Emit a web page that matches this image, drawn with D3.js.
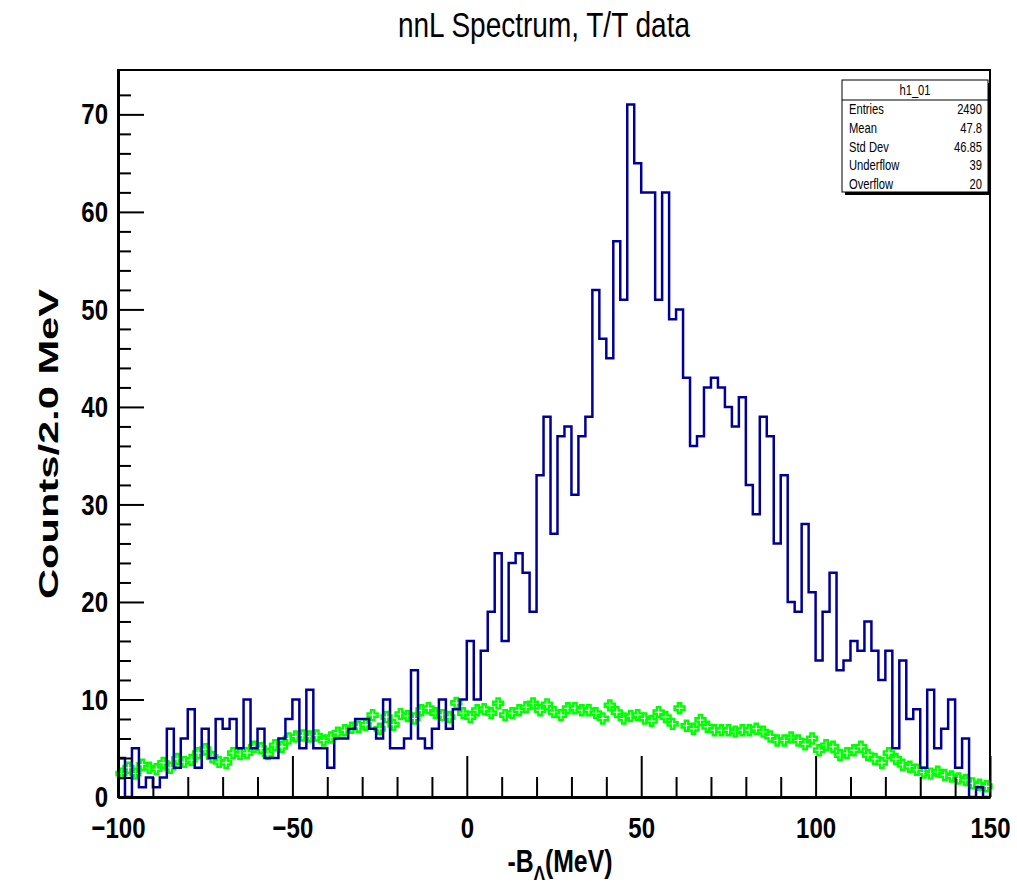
<!DOCTYPE html>
<html>
<head>
<meta charset="utf-8">
<script src="https://cdn.jsdelivr.net/npm/d3@7/dist/d3.min.js"></script>
<style>
  body { margin: 0; background: #fff; }
  svg { display: block; }
  text { font-family: "Liberation Sans", Arial, sans-serif; }
</style>
</head>
<body>
<script>
// histogram h1_01 : 125 bins of 2 MeV from -100 to 150
var xMin = -100, xMax = 150, binWidth = 2;

var counts = [
  4, 0, 5, 1, 2, 1, 2, 7, 3, 6,
  9, 3, 7, 4, 8, 7, 8, 5, 10, 5,
  7, 4, 4, 6, 8, 10, 5, 11, 5, 5,
  3, 6, 6, 7, 8, 8, 7, 6, 10, 5,
  5, 6, 13, 6, 5, 7, 10, 7, 9, 10,
  16, 10, 15, 19, 25, 16, 24, 25, 23, 19,
  33, 39, 27, 37, 38, 31, 37, 39, 52, 47,
  45, 57, 51, 71, 65, 62, 62, 51, 62, 49,
  50, 43, 36, 37, 42, 43, 42, 40, 38, 41,
  32, 29, 39, 37, 26, 33, 20, 19, 28, 21,
  14, 19, 23, 13, 14, 16, 15, 18, 15, 12,
  15, 5, 14, 8, 9, 3, 11, 5, 7, 10,
  3, 6, 0, 1, 0
];

// green background points (same binning)
var bgCounts = [
  2.4, 3.0, 2.4, 3.3, 3.0, 2.85, 3.5, 3.0, 3.9, 3.6,
  3.8, 4.5, 4.9, 4.1, 3.6, 3.5, 4.5, 4.4, 4.5, 5.15,
  5.0, 4.4, 5.3, 5.15, 6.0, 6.2, 6.3, 6.2, 6.3, 5.8,
  6.1, 6.6, 6.85, 7.1, 7.2, 7.4, 8.4, 7.0, 8.2, 7.4,
  8.5, 8.3, 8.05, 8.9, 9.1, 8.6, 8.4, 8.2, 9.65, 8.6,
  8.2, 8.9, 9.0, 8.6, 9.6, 8.4, 8.6, 8.9, 9.2, 9.6,
  8.9, 9.5, 8.7, 8.4, 9.1, 9.1, 8.9, 8.9, 8.6, 8.05,
  9.4, 8.7, 8.05, 8.3, 8.4, 8.05, 7.8, 8.7, 8.2, 7.5,
  9.1, 7.3, 7.0, 7.9, 7.2, 6.85, 6.85, 6.85, 6.7, 6.85,
  6.85, 7.0, 6.7, 6.2, 5.8, 5.8, 6.1, 5.8, 5.4, 6.0,
  4.8, 5.3, 5.15, 4.3, 4.5, 4.8, 5.15, 4.3, 3.9, 3.5,
  4.5, 3.9, 3.3, 3.1, 2.8, 2.5, 2.4, 2.6, 2.25, 2.1,
  1.9, 1.75, 1.4, 1.25, 1.1
];
var bgErr = 0.5;

var statNames = ["Entries", "Mean", "Std Dev", "Underflow", "Overflow"];
var statValues = ["2490", "47.8", "46.85", "39", "20"];

var xMajorTicks = [-100, -50, 0, 50, 100, 150];
var yMajorTicks = [0, 10, 20, 30, 40, 50, 60, 70];

var W = 1017, H = 891;
var frame = { left: 118, right: 990, top: 70, bottom: 797 };
var yMax = 74.55;
var blue = "#000099", green = "#00ff00";
var textSx = 0.8;   // picture is horizontally condensed

var svg = d3.select("body").append("svg")
    .attr("width", W)
    .attr("height", H);

var x = d3.scaleLinear().domain([xMin, xMax]).range([frame.left, frame.right]);
var y = d3.scaleLinear().domain([0, yMax]).range([frame.bottom, frame.top]);

// title
svg.append("text")
    .attr("transform", "translate(544,37) scale(" + textSx + ",1)")
    .attr("text-anchor", "middle")
    .style("font-size", "35px")
    .text("nnL Spectrum, T/T data");

// frame
svg.append("rect")
    .attr("x", frame.left).attr("y", frame.top)
    .attr("width", frame.right - frame.left)
    .attr("height", frame.bottom - frame.top)
    .style("fill", "none")
    .style("stroke", "black")
    .style("stroke-width", 2);

// background points
var bins = counts.map(function(c, i) {
    return { lo: xMin + i * binWidth, c: c, bg: bgCounts[i] };
});

var bgG = svg.append("g");
bgG.selectAll("line.err").data(bins).enter().append("line")
    .attr("class", "err")
    .attr("x1", function(d) { return x(d.lo + binWidth / 2); })
    .attr("x2", function(d) { return x(d.lo + binWidth / 2); })
    .attr("y1", function(d) { return y(d.bg - bgErr); })
    .attr("y2", function(d) { return y(d.bg + bgErr); })
    .style("stroke", green)
    .style("stroke-width", 2.4);

// open cross marker
var a = 5, t = 1.7;
var crossPath = "M" + (-t) + "," + (-a) + "L" + t + "," + (-a) + "L" + t + "," + (-t) +
    "L" + a + "," + (-t) + "L" + a + "," + t + "L" + t + "," + t + "L" + t + "," + a +
    "L" + (-t) + "," + a + "L" + (-t) + "," + t + "L" + (-a) + "," + t + "L" + (-a) + "," + (-t) +
    "L" + (-t) + "," + (-t) + "Z";
bgG.selectAll("path.mk").data(bins).enter().append("path")
    .attr("class", "mk")
    .attr("d", crossPath)
    .attr("transform", function(d) {
        return "translate(" + x(d.lo + binWidth / 2) + "," + y(d.bg) + ")";
    })
    .style("fill", "white")
    .style("stroke", green)
    .style("stroke-width", 2.4);

// histogram outline
var steps = bins.map(function(d) { return [d.lo, d.c]; });
steps.push([xMax, counts[counts.length - 1]]);
var line = d3.line()
    .x(function(d) { return x(d[0]); })
    .y(function(d) { return y(d[1]); })
    .curve(d3.curveStepAfter);
svg.append("path")
    .attr("d", line(steps))
    .style("fill", "none")
    .style("stroke", blue)
    .style("stroke-width", 2.5);

// x axis
var xAxisY = frame.bottom;
svg.append("g")
    .attr("transform", "translate(0," + xAxisY + ")")
    .call(d3.axisBottom(x).tickValues(d3.range(-90, 150, 10).filter(function(v) { return v % 50 !== 0; }))
        .tickSize(-20).tickFormat(""))
    .call(function(g) { g.select(".domain").remove(); })
    .selectAll("line").style("stroke-width", 2);

var xAxis = svg.append("g")
    .attr("transform", "translate(0," + xAxisY + ")")
    .call(d3.axisBottom(x).tickValues(xMajorTicks).tickSize(-41).tickSizeOuter(0).tickPadding(13)
        .tickFormat(function(d) { return d < 0 ? "\u2212" + Math.abs(d) : d; }));
xAxis.select(".domain").style("stroke-width", 3);
xAxis.selectAll("line").style("stroke-width", 2);
xAxis.selectAll("text")
    .attr("transform", "scale(" + textSx + ",1)")
    .attr("dy", "0.95em")
    .style("font-family", "'Liberation Sans', Arial, sans-serif")
    .style("font-weight", "bold")
    .style("font-size", "30px")
    .style("fill", "black");

// y axis
svg.append("g")
    .attr("transform", "translate(" + frame.left + ",0)")
    .call(d3.axisLeft(y).tickValues(d3.range(2, 74, 2).filter(function(v) { return v % 10 !== 0; }))
        .tickSize(-13).tickFormat(""))
    .call(function(g) { g.select(".domain").remove(); })
    .selectAll("line").style("stroke-width", 2);

var yAxis = svg.append("g")
    .attr("transform", "translate(" + frame.left + ",0)")
    .call(d3.axisLeft(y).tickValues(yMajorTicks).tickSize(-26).tickSizeOuter(0).tickPadding(12));
yAxis.select(".domain").style("stroke-width", 3);
yAxis.selectAll("line").style("stroke-width", 2);
yAxis.selectAll("text")
    .attr("transform", "scale(" + textSx + ",1)")
    .attr("x", -10 / textSx)
    .style("font-family", "'Liberation Sans', Arial, sans-serif")
    .style("font-weight", "bold")
    .style("font-size", "30px")
    .style("fill", "black");

// axis titles
svg.append("text")
    .attr("transform", "translate(58,444) scale(" + textSx + ",1) rotate(-90)")
    .attr("text-anchor", "middle")
    .style("font-weight", "bold")
    .style("font-size", "34px")
    .attr("textLength", 310)
    .attr("lengthAdjust", "spacingAndGlyphs")
    .text("Counts/2.0 MeV");

var xt = svg.append("text")
    .attr("transform", "translate(560,872) scale(" + textSx + ",1)")
    .attr("text-anchor", "middle")
    .style("font-weight", "bold")
    .style("font-size", "31px");
xt.append("tspan").text("-B");
xt.append("tspan").attr("dy", 8).style("font-size", "21px").text("\u039B");
xt.append("tspan").attr("dy", -8).text("(MeV)");

// stat box
var sb = { x: 842, y: 80, w: 146, h: 112, head: 20 };
svg.append("rect")
    .attr("x", sb.x + 3).attr("y", sb.y + 3).attr("width", sb.w).attr("height", sb.h)
    .style("fill", "black");
svg.append("rect")
    .attr("x", sb.x).attr("y", sb.y).attr("width", sb.w).attr("height", sb.h)
    .style("fill", "white").style("stroke", "black").style("stroke-width", 1);
svg.append("line")
    .attr("x1", sb.x).attr("x2", sb.x + sb.w)
    .attr("y1", sb.y + sb.head).attr("y2", sb.y + sb.head)
    .style("stroke", "black");
svg.append("text")
    .attr("transform", "translate(" + (sb.x + sb.w / 2) + "," + (sb.y + 15) + ") scale(" + textSx + ",1)")
    .attr("text-anchor", "middle")
    .style("font-size", "14px")
    .text("h1_01");
var rowY = d3.scaleLinear().domain([0, statNames.length - 1]).range([sb.y + 34, sb.y + 109]);
svg.selectAll("text.sn").data(statNames).enter().append("text")
    .attr("class", "sn")
    .attr("transform", function(d, i) { return "translate(" + (sb.x + 7) + "," + rowY(i) + ") scale(" + textSx + ",1)"; })
    .style("font-size", "14px")
    .text(function(d) { return d; });
svg.selectAll("text.sv").data(statValues).enter().append("text")
    .attr("class", "sv")
    .attr("transform", function(d, i) { return "translate(" + (sb.x + sb.w - 6) + "," + rowY(i) + ") scale(" + textSx + ",1)"; })
    .attr("text-anchor", "end")
    .style("font-size", "14px")
    .text(function(d) { return d; });
</script>
</body>
</html>
